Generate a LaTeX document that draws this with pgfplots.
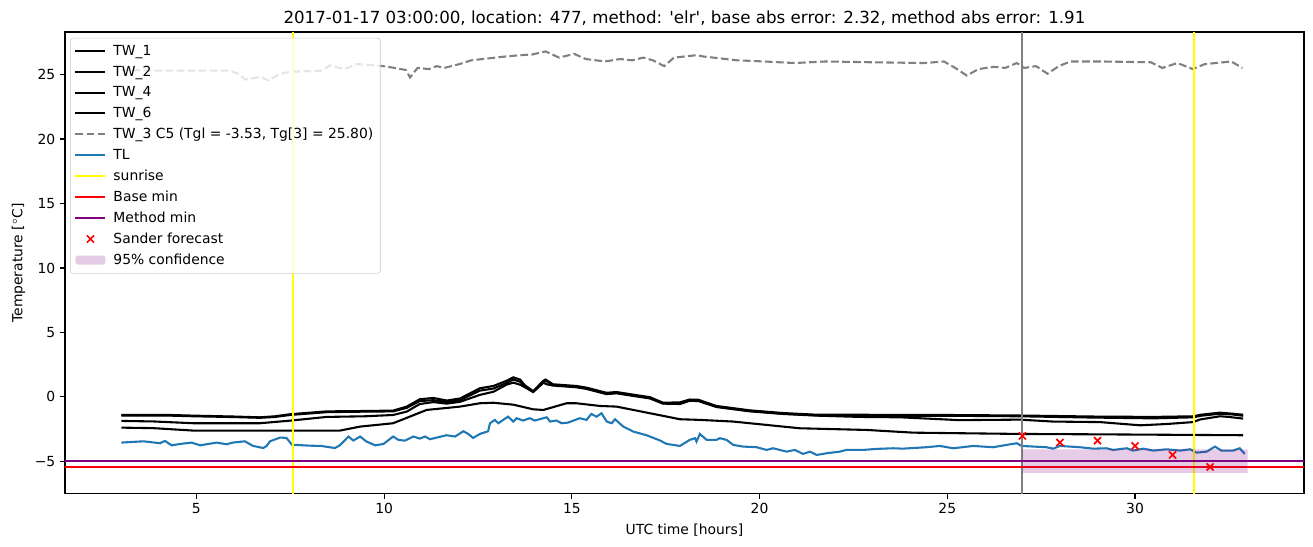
\documentclass[border=0pt]{standalone}
\usepackage{fontspec}
\setmainfont{DejaVu Sans}
\usepackage{pgfplots}
\pgfplotsset{compat=1.18}
\definecolor{tabblue}{HTML}{1F77B4}
\definecolor{myyellow}{RGB}{255,255,0}
\definecolor{myred}{RGB}{255,0,0}
\definecolor{mypurple}{RGB}{128,0,128}
\definecolor{mygray}{RGB}{128,128,128}
\definecolor{legframe}{RGB}{204,204,204}
\pgfplotsset{
  linelegend/.style={legend image code/.code={\draw[##1] (0pt,0pt) -- (21.6pt,0pt);}},
  marklegend/.style={legend image code/.code={\draw[##1] plot coordinates {(10.8pt,0pt)};}},
  arealegend/.style={legend image code/.code={\fill[##1] (0pt,-3.3pt) rectangle (21.6pt,3.3pt);}},
}
\begin{document}
\begin{tikzpicture}
\path[use as bounding box] (-46.8pt,-38.2pt) rectangle (898.5pt,355.6pt);
\begin{axis}[
  at={(0,0)}, anchor=south west,
  scale only axis, width=892pt, height=332.6pt,
  xmin=1.5, xmax=34.5, ymin=-7.52, ymax=28.3,
  xtick={5,10,15,20,25,30},
  ytick={-5,0,5,10,15,20,25},
  yticklabels={−5,0,5,10,15,20,25},
  tick align=outside, tick pos=left, major tick length=3.5pt,
  every tick/.style={black, line width=0.8pt},
  axis line style={line width=0.8pt},
  /pgf/number format/assume math mode=true,
  tick label style={font=\fontsize{10}{12}\selectfont},
  xlabel={UTC time [hours]},
  ylabel={Temperature [$^\circ$C]},
  label style={font=\fontsize{10}{12}\selectfont},
  title={2017-01-17 03:00:00, location: 477, method: \textquotesingle elr\textquotesingle, base abs error: 2.32, method abs error: 1.91},
  title style={font=\fontsize{12}{14}\selectfont, yshift=-4.5pt},
  legend cell align=left,
  legend style={at={(0,1)}, anchor=north west, xshift=3.6pt, yshift=-4.3pt,
    draw=legframe, fill=white, fill opacity=0.8, text opacity=1, draw opacity=1,
    rounded corners=2pt, font=\fontsize{10}{12}\selectfont, row sep=2.05pt,
    column sep=3pt, inner xsep=3pt, inner ysep=3pt},
]
% TW_1
\addplot[black, line width=1.5pt, linelegend] coordinates {
(3,-1.40) (4.3,-1.40) (4.92,-1.45) (6,-1.52) (6.69,-1.58) (7.1,-1.50) (7.49,-1.34) (8.47,-1.12) (9.5,-1.09) (10.24,-1.06) (10.6,-0.75) (10.95,-0.18) (11.31,-0.08) (11.67,-0.28) (12.02,-0.12) (12.55,0.67) (12.91,0.85) (13.26,1.25) (13.44,1.52) (13.62,1.35) (13.75,0.9) (13.97,0.45) (14.24,1.25) (14.3,1.35) (14.5,0.98) (15.12,0.85) (15.39,0.72) (15.92,0.32) (16.19,0.38) (16.63,0.18) (17.08,-0.02) (17.43,-0.45) (17.88,-0.42) (18.14,-0.2) (18.37,-0.22) (18.85,-0.70) (19.74,-1.04) (20.63,-1.25) (21.52,-1.38) (22.67,-1.38) (23.75,-1.40) (25,-1.40) (26.93,-1.44) (28.89,-1.52) (30.49,-1.55) (31.56,-1.50) (31.75,-1.38) (32.26,-1.22) (32.6,-1.30) (32.88,-1.38)
};
\addlegendentry{TW\_1}
% TW_2
\addplot[black, line width=1.5pt, linelegend] coordinates {
(3,-1.44) (4.3,-1.45) (4.92,-1.50) (6,-1.56) (6.69,-1.62) (7.1,-1.55) (7.49,-1.40) (8.47,-1.18) (9.5,-1.14) (10.24,-1.12) (10.6,-0.85) (10.95,-0.32) (11.31,-0.25) (11.67,-0.40) (12.02,-0.25) (12.55,0.49) (12.91,0.65) (13.26,1.08) (13.44,1.35) (13.62,1.18) (13.75,0.8) (13.97,0.40) (14.24,1.15) (14.3,1.25) (14.5,0.92) (15.12,0.80) (15.39,0.67) (15.92,0.27) (16.19,0.33) (16.63,0.12) (17.08,-0.07) (17.43,-0.50) (17.88,-0.48) (18.14,-0.25) (18.37,-0.27) (18.85,-0.75) (19.74,-1.08) (20.63,-1.30) (21.52,-1.42) (22.67,-1.44) (23.75,-1.46) (25,-1.46) (26.93,-1.50) (28.89,-1.60) (30.49,-1.66) (31.56,-1.58) (31.75,-1.46) (32.26,-1.30) (32.6,-1.36) (32.88,-1.46)
};
\addlegendentry{TW\_2}
% TW_4
\addplot[black, line width=1.5pt, linelegend] coordinates {
(3,-1.86) (3.85,-1.90) (4.92,-2.04) (6.69,-2.04) (7.49,-1.84) (8.47,-1.55) (9.5,-1.5) (10.24,-1.40) (10.6,-1.14) (10.95,-0.55) (11.31,-0.40) (11.67,-0.52) (12.02,-0.38) (12.55,0.16) (12.91,0.40) (13.26,0.95) (13.44,1.11) (13.62,0.95) (13.75,0.75) (13.97,0.38) (14.24,1.1) (14.33,0.98) (14.5,0.88) (15.12,0.75) (15.39,0.62) (15.92,0.22) (16.19,0.28) (16.63,0.08) (17.08,-0.12) (17.43,-0.52) (17.88,-0.55) (18.14,-0.3) (18.37,-0.32) (18.85,-0.78) (19.74,-1.12) (20.63,-1.32) (21.52,-1.45) (22.67,-1.55) (23.75,-1.58) (25.33,-1.80) (26.93,-1.76) (27.82,-1.91) (29.06,-1.95) (30.14,-2.2) (30.84,-2.1) (31.55,-1.95) (31.73,-1.75) (32.26,-1.5) (32.5,-1.55) (32.88,-1.68)
};
\addlegendentry{TW\_4}
% TW_6
\addplot[black, line width=1.5pt, linelegend] coordinates {
(3,-2.38) (3.85,-2.42) (4.92,-2.61) (8.47,-2.61) (8.82,-2.61) (9.36,-2.30) (10.24,-2.04) (10.69,-1.52) (11.13,-1.01) (12.02,-0.75) (12.55,-0.49) (12.91,-0.45) (13.44,-0.6) (13.97,-0.96) (14.24,-1.01) (14.86,-0.49) (15.12,-0.49) (15.75,-0.70) (16.19,-0.75) (17.52,-1.52) (17.88,-1.73) (18.41,-1.78) (19.3,-1.91) (21.07,-2.43) (22.85,-2.56) (24.1,-2.77) (26.93,-2.87) (29,-2.9) (32.88,-2.97)
};
\addlegendentry{TW\_6}
% TW_3
\addplot[mygray, line width=1.5pt, dash pattern=on 5.55pt off 2.4pt, linelegend] coordinates {
(3,25.35) (4.01,25.3) (5.89,25.3) (6.1,25.06) (6.3,24.61) (6.71,24.82) (6.92,24.53) (7.22,25.06) (7.53,25.21) (8.35,25.3) (8.55,25.71) (8.95,25.42) (9.26,25.81) (9.77,25.71) (9.97,25.65) (10.28,25.51) (10.58,25.35) (10.69,24.77) (10.89,25.51) (11.19,25.42) (11.4,25.65) (11.6,25.51) (12.01,25.81) (12.32,26.1) (13.24,26.4) (13.64,26.5) (13.94,26.55) (14.3,26.79) (14.66,26.31) (15.06,26.6) (15.37,26.2) (15.88,26.01) (16.29,26.2) (16.6,26.1) (16.9,26.31) (17.16,26.1) (17.46,25.65) (17.72,26.31) (18.33,26.5) (18.49,26.4) (19.41,26.1) (20.12,26.01) (20.93,25.89) (21.75,26.01) (22.97,25.95) (24.4,25.89) (24.91,26.01) (25.21,25.51) (25.52,24.92) (25.83,25.42) (26.24,25.6) (26.54,25.51) (26.85,25.89) (27.05,25.51) (27.36,25.65) (27.67,25.06) (27.97,25.65) (28.28,26.01) (29.1,26.01) (30.42,25.95) (30.73,25.51) (31.13,25.89) (31.54,25.42) (31.85,25.8) (32.56,26.01) (32.86,25.51)
};
\addlegendentry{TW\_3 C5 (Tgl = -3.53, Tg[3] = 25.80)}
% TL
\addplot[tabblue, line width=1.5pt, linelegend] coordinates {
(3.0,-3.54) (3.59,-3.44) (4.03,-3.59) (4.16,-3.41) (4.34,-3.75) (4.56,-3.65) (4.87,-3.54) (5.1,-3.75) (5.54,-3.54) (5.8,-3.67) (5.97,-3.54) (6.29,-3.44) (6.51,-3.80) (6.78,-3.96) (6.87,-3.80) (6.96,-3.44) (7.23,-3.15) (7.4,-3.18) (7.54,-3.70) (8.02,-3.78) (8.32,-3.80) (8.69,-3.96) (8.82,-3.75) (9.05,-3.07) (9.18,-3.38) (9.36,-3.07) (9.53,-3.46) (9.76,-3.75) (9.98,-3.65) (10.24,-3.07) (10.38,-3.33) (10.55,-3.39) (10.78,-3.07) (10.95,-3.23) (11.09,-3.07) (11.22,-3.28) (11.66,-2.97) (11.89,-3.07) (12.11,-2.66) (12.24,-2.87) (12.37,-3.18) (12.55,-2.87) (12.77,-2.66) (12.82,-2.04) (12.95,-1.78) (13.04,-2.04) (13.3,-1.53) (13.44,-1.91) (13.53,-1.65) (13.7,-1.83) (13.88,-1.65) (14.01,-1.83) (14.33,-1.58) (14.42,-1.91) (14.59,-1.83) (14.73,-2.04) (14.9,-1.99) (15.21,-1.65) (15.39,-1.78) (15.52,-1.32) (15.66,-1.53) (15.79,-1.27) (15.93,-1.91) (16.06,-2.04) (16.15,-1.73) (16.37,-2.30) (16.64,-2.69) (16.99,-2.97) (17.35,-3.38) (17.52,-3.64) (17.88,-3.80) (18.14,-3.33) (18.28,-3.20) (18.32,-3.46) (18.41,-2.87) (18.59,-3.33) (18.85,-3.33) (18.94,-3.20) (19.12,-3.33) (19.3,-3.72) (19.56,-3.85) (19.92,-3.90) (20.19,-4.11) (20.36,-3.98) (20.72,-4.24) (20.94,-4.11) (21.16,-4.42) (21.34,-4.24) (21.52,-4.50) (21.78,-4.37) (22.14,-4.24) (22.31,-4.11) (22.76,-4.11) (23.11,-4.03) (23.56,-3.98) (23.82,-4.01) (24.44,-3.90) (24.8,-3.80) (25.16,-3.98) (25.69,-3.80) (26.22,-3.90) (26.58,-3.72) (26.85,-3.59) (26.98,-3.80) (27.64,-3.90) (27.82,-4.01) (28.0,-3.80) (28.53,-3.90) (28.89,-4.01) (29.24,-3.98) (29.42,-4.11) (29.78,-3.98) (29.95,-4.16) (30.22,-4.01) (30.49,-4.16) (30.84,-4.06) (31.2,-4.16) (31.47,-4.06) (31.64,-4.32) (31.91,-4.24) (32.13,-3.85) (32.3,-4.16) (32.61,-4.16) (32.79,-3.98) (32.92,-4.42)
};
\addlegendentry{TL}
% sunrise
\addplot[myyellow, line width=1.5pt, linelegend] coordinates {(7.58,-7.52) (7.58,28.3)};
\addlegendentry{sunrise}
\addplot[myyellow, line width=1.5pt, forget plot] coordinates {(31.57,-7.52) (31.57,28.3)};
\addplot[mygray, line width=1.5pt, forget plot] coordinates {(27,-7.52) (27,28.3)};
% base min
\addplot[myred, line width=1.5pt, linelegend] coordinates {(1.5,-5.43) (34.5,-5.43)};
\addlegendentry{Base min}
\addplot[mypurple, line width=1.5pt, linelegend] coordinates {(1.5,-4.96) (34.5,-4.96)};
\addlegendentry{Method min}
% Sander forecast
\addplot[myred, only marks, mark=x, mark size=3.6pt, line width=1.2pt, marklegend] coordinates {
(27,-3.02) (28,-3.54) (29,-3.39) (30,-3.80) (31,-4.50) (32,-5.43)
};
\addlegendentry{Sander forecast}
% confidence
\addplot[draw=none, fill=mypurple, fill opacity=0.2, arealegend] coordinates {
(27,-5.89) (33,-5.89) (33,-4.06) (27,-4.06) (27,-5.89)
};
\addlegendentry{95\% confidence}
\end{axis}
\end{tikzpicture}
\end{document}
